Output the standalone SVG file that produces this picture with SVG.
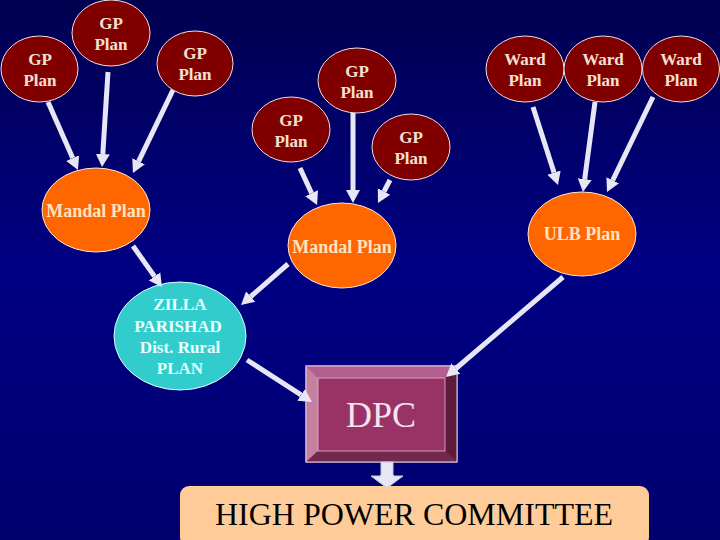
<svg xmlns="http://www.w3.org/2000/svg" width="720" height="540" viewBox="0 0 720 540">
<defs>
<linearGradient id="bg" x1="0" y1="0" x2="0" y2="1">
<stop offset="0" stop-color="#000050"/>
<stop offset="0.5" stop-color="#000084"/>
<stop offset="1" stop-color="#00006e"/>
</linearGradient>
<marker id="ah" markerUnits="userSpaceOnUse" markerWidth="16" markerHeight="16" viewBox="0 -8 16 16" refX="0" refY="0" orient="auto">
<path d="M0,-7 L13,0 L0,7 z" fill="#e6e6f5"/>
</marker>
<style>
.gp{fill:#800000;stroke:#f0e0e0;stroke-width:1}
.or{fill:#ff6600;stroke:#ffe8d0;stroke-width:1}
.zp{fill:#33cccc;stroke:#e0ffff;stroke-width:1}
.t{font-family:"Liberation Serif","Times New Roman",serif;font-weight:bold;font-size:17px;text-anchor:middle}
.big{font-size:18px}
.tg{fill:#f5e0d0}
.to{fill:#ffe4c0}
.tz{fill:#e8ffff}
.c line{stroke:#e6e6f5;stroke-width:5;marker-end:url(#ah)}
</style>
</defs>
<rect width="720" height="540" fill="url(#bg)"/>

<g id="gp1"><ellipse class="gp" cx="39.5" cy="69" rx="38.5" ry="33"/><text class="t tg" x="40" y="65">GP</text><text class="t tg" x="40" y="86">Plan</text></g>
<g id="gp2"><ellipse class="gp" cx="111" cy="33" rx="39" ry="33"/><text class="t tg" x="111" y="29">GP</text><text class="t tg" x="111" y="50">Plan</text></g>
<g id="gp3"><ellipse class="gp" cx="195" cy="63.5" rx="38" ry="32.5"/><text class="t tg" x="195" y="59">GP</text><text class="t tg" x="195" y="80">Plan</text></g>
<g id="gp4"><ellipse class="gp" cx="357" cy="80.5" rx="39" ry="32.5"/><text class="t tg" x="357" y="77">GP</text><text class="t tg" x="357" y="98">Plan</text></g>
<g id="gp5"><ellipse class="gp" cx="291" cy="129.5" rx="39" ry="32.5"/><text class="t tg" x="291" y="126">GP</text><text class="t tg" x="291" y="147">Plan</text></g>
<g id="gp6"><ellipse class="gp" cx="411" cy="147" rx="39" ry="33"/><text class="t tg" x="411" y="143">GP</text><text class="t tg" x="411" y="164">Plan</text></g>
<g id="ward1"><ellipse class="gp" cx="525" cy="69" rx="39" ry="33"/><text class="t tg" x="525" y="65">Ward</text><text class="t tg" x="525" y="86">Plan</text></g>
<g id="ward2"><ellipse class="gp" cx="603" cy="69" rx="39" ry="33"/><text class="t tg" x="603" y="65">Ward</text><text class="t tg" x="603" y="86">Plan</text></g>
<g id="ward3"><ellipse class="gp" cx="681" cy="69" rx="38.5" ry="33"/><text class="t tg" x="681" y="65">Ward</text><text class="t tg" x="681" y="86">Plan</text></g>

<g id="mandal1"><ellipse class="or" cx="96" cy="210" rx="54" ry="42"/><text class="t big to" x="96" y="217">Mandal Plan</text></g>
<g id="mandal2"><ellipse class="or" cx="342" cy="245.5" rx="54" ry="42.5"/><text class="t big to" x="342" y="253">Mandal Plan</text></g>
<g id="ulb"><ellipse class="or" cx="582" cy="234" rx="54" ry="42"/><text class="t big to" x="582" y="240">ULB Plan</text></g>

<g id="zilla"><ellipse class="zp" cx="180" cy="336" rx="66" ry="54"/>
<text class="t tz" x="180" y="310">ZILLA</text>
<text class="t tz" x="178" y="332">PARISHAD</text>
<text class="t tz" x="180" y="353">Dist. Rural</text>
<text class="t tz" x="180" y="374">PLAN</text></g>

<g id="dpc">
<rect x="306" y="366" width="151" height="96" fill="#993366" stroke="#e8c8e0" stroke-width="1"/>
<polygon points="306,366 457,366 445,378 318,378" fill="#b36090"/>
<polygon points="306,366 318,378 318,451 306,462" fill="#c4809f"/>
<polygon points="457,366 457,462 445,451 445,378" fill="#5e1c3c"/>
<polygon points="306,462 457,462 445,451 318,451" fill="#73284d"/>
<rect x="318" y="378" width="127" height="73" fill="#993366" stroke="#e0b8d0" stroke-width="0.8"/>
<rect x="306" y="366" width="151" height="96" fill="none" stroke="#e8c8e0" stroke-width="1"/>
<text x="381" y="427" font-family="'Liberation Serif','Times New Roman',serif" font-size="36" fill="#f5e4f0" text-anchor="middle">DPC</text>
</g>

<g id="hpc">
<rect x="180" y="486" width="469" height="60" rx="9" fill="#ffcc99"/>
<text x="414" y="525" font-family="'Liberation Serif','Times New Roman',serif" font-size="32" fill="#000000" text-anchor="middle">HIGH POWER COMMITTEE</text>
</g>

<g class="c" id="connectors">
<line x1="48" y1="102" x2="72.7" y2="158.1"/>
<line x1="108" y1="72" x2="102.8" y2="154"/>
<line x1="173" y1="90" x2="138.6" y2="161.3"/>
<line x1="300" y1="168" x2="311.6" y2="193.2"/>
<line x1="353" y1="113" x2="353" y2="190"/>
<line x1="390" y1="180" x2="384" y2="191.5"/>
<line x1="533" y1="107" x2="554" y2="172.6"/>
<line x1="595" y1="102" x2="584.7" y2="179.1"/>
<line x1="653" y1="97" x2="612.7" y2="180.3"/>
<line x1="133" y1="246" x2="154.5" y2="276.4"/>
<line x1="288" y1="264" x2="250.8" y2="296.5"/>
<line x1="247" y1="360" x2="301.1" y2="394.9"/>
<line x1="563" y1="277" x2="455.9" y2="368.5"/>
<path d="M381,462 L393,462 L393,476 L403,476 L387,488 L371,476 L381,476 z" fill="#e6e6f5" stroke="#c8c8e0" stroke-width="1"/>
<line x1="387" y1="463" x2="387" y2="475" stroke="#30306a" stroke-width="2" marker-end="none"/>
</g>
</svg>
